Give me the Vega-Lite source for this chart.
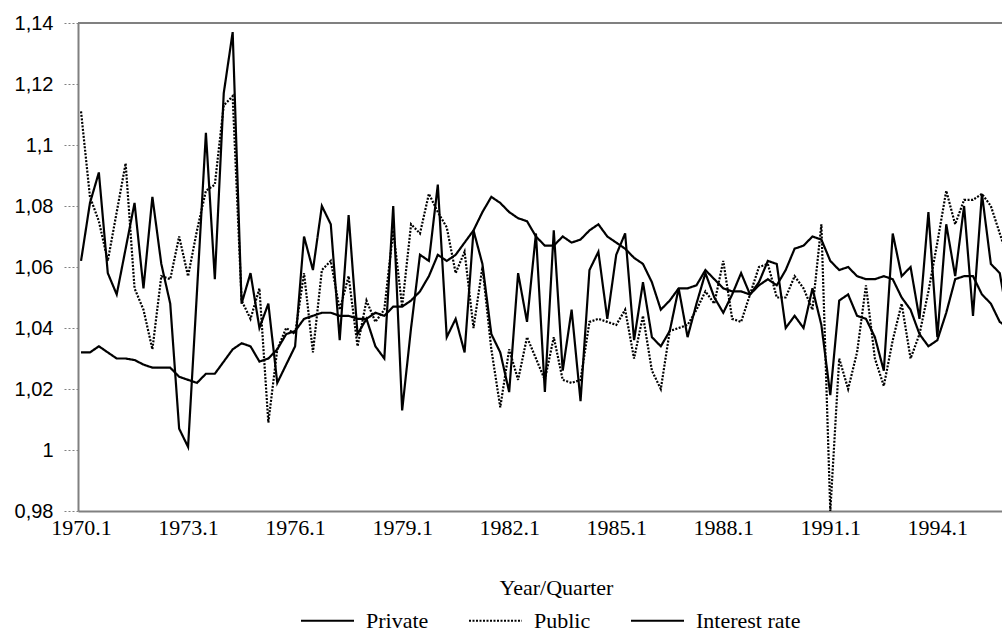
{
  "$schema": "https://vega.github.io/schema/vega-lite/v6.json",
  "width": 924,
  "height": 488,
  "autosize": {"type": "none"},
  "padding": {"left": 78, "top": 23, "right": 0, "bottom": 123},
  "background": "white",
  "config": {"view": {"stroke": null}, "font": "Liberation Serif"},
  "resolve": {"axis": {"y": "independent"}},
  "data": {"values": [
    {"date":1970,"Private":1.062,"Public":1.111,"Interest rate":1.032},
    {"date":1970.25,"Private":1.081,"Public":1.083,"Interest rate":1.032},
    {"date":1970.5,"Private":1.091,"Public":1.075,"Interest rate":1.034},
    {"date":1970.75,"Private":1.058,"Public":1.062,"Interest rate":1.032},
    {"date":1971,"Private":1.051,"Public":1.078,"Interest rate":1.030},
    {"date":1971.25,"Private":1.066,"Public":1.094,"Interest rate":1.030},
    {"date":1971.5,"Private":1.081,"Public":1.053,"Interest rate":1.0295},
    {"date":1971.75,"Private":1.053,"Public":1.046,"Interest rate":1.028},
    {"date":1972,"Private":1.083,"Public":1.033,"Interest rate":1.027},
    {"date":1972.25,"Private":1.061,"Public":1.057,"Interest rate":1.027},
    {"date":1972.5,"Private":1.048,"Public":1.056,"Interest rate":1.027},
    {"date":1972.75,"Private":1.007,"Public":1.070,"Interest rate":1.024},
    {"date":1973,"Private":1.001,"Public":1.057,"Interest rate":1.023},
    {"date":1973.25,"Private":1.052,"Public":1.072,"Interest rate":1.022},
    {"date":1973.5,"Private":1.104,"Public":1.085,"Interest rate":1.025},
    {"date":1973.75,"Private":1.056,"Public":1.087,"Interest rate":1.025},
    {"date":1974,"Private":1.117,"Public":1.113,"Interest rate":1.029},
    {"date":1974.25,"Private":1.137,"Public":1.116,"Interest rate":1.033},
    {"date":1974.5,"Private":1.048,"Public":1.049,"Interest rate":1.035},
    {"date":1974.75,"Private":1.058,"Public":1.043,"Interest rate":1.034},
    {"date":1975,"Private":1.040,"Public":1.053,"Interest rate":1.029},
    {"date":1975.25,"Private":1.048,"Public":1.009,"Interest rate":1.030},
    {"date":1975.5,"Private":1.022,"Public":1.033,"Interest rate":1.033},
    {"date":1975.75,"Private":1.028,"Public":1.040,"Interest rate":1.038},
    {"date":1976,"Private":1.034,"Public":1.038,"Interest rate":1.039},
    {"date":1976.25,"Private":1.070,"Public":1.058,"Interest rate":1.043},
    {"date":1976.5,"Private":1.059,"Public":1.032,"Interest rate":1.044},
    {"date":1976.75,"Private":1.080,"Public":1.059,"Interest rate":1.045},
    {"date":1977,"Private":1.074,"Public":1.062,"Interest rate":1.045},
    {"date":1977.25,"Private":1.036,"Public":1.046,"Interest rate":1.044},
    {"date":1977.5,"Private":1.077,"Public":1.057,"Interest rate":1.044},
    {"date":1977.75,"Private":1.038,"Public":1.034,"Interest rate":1.043},
    {"date":1978,"Private":1.043,"Public":1.049,"Interest rate":1.043},
    {"date":1978.25,"Private":1.034,"Public":1.042,"Interest rate":1.045},
    {"date":1978.5,"Private":1.030,"Public":1.046,"Interest rate":1.044},
    {"date":1978.75,"Private":1.080,"Public":1.072,"Interest rate":1.047},
    {"date":1979,"Private":1.013,"Public":1.047,"Interest rate":1.047},
    {"date":1979.25,"Private":1.040,"Public":1.074,"Interest rate":1.049},
    {"date":1979.5,"Private":1.064,"Public":1.071,"Interest rate":1.052},
    {"date":1979.75,"Private":1.062,"Public":1.084,"Interest rate":1.057},
    {"date":1980,"Private":1.087,"Public":1.078,"Interest rate":1.064},
    {"date":1980.25,"Private":1.037,"Public":1.073,"Interest rate":1.062},
    {"date":1980.5,"Private":1.043,"Public":1.058,"Interest rate":1.064},
    {"date":1980.75,"Private":1.032,"Public":1.065,"Interest rate":1.068},
    {"date":1981,"Private":1.072,"Public":1.040,"Interest rate":1.072},
    {"date":1981.25,"Private":1.061,"Public":1.060,"Interest rate":1.078},
    {"date":1981.5,"Private":1.038,"Public":1.033,"Interest rate":1.083},
    {"date":1981.75,"Private":1.032,"Public":1.014,"Interest rate":1.081},
    {"date":1982,"Private":1.019,"Public":1.033,"Interest rate":1.078},
    {"date":1982.25,"Private":1.058,"Public":1.023,"Interest rate":1.076},
    {"date":1982.5,"Private":1.042,"Public":1.037,"Interest rate":1.075},
    {"date":1982.75,"Private":1.071,"Public":1.030,"Interest rate":1.070},
    {"date":1983,"Private":1.019,"Public":1.023,"Interest rate":1.067},
    {"date":1983.25,"Private":1.072,"Public":1.037,"Interest rate":1.067},
    {"date":1983.5,"Private":1.026,"Public":1.023,"Interest rate":1.070},
    {"date":1983.75,"Private":1.046,"Public":1.022,"Interest rate":1.068},
    {"date":1984,"Private":1.016,"Public":1.023,"Interest rate":1.069},
    {"date":1984.25,"Private":1.059,"Public":1.042,"Interest rate":1.072},
    {"date":1984.5,"Private":1.065,"Public":1.043,"Interest rate":1.074},
    {"date":1984.75,"Private":1.043,"Public":1.042,"Interest rate":1.070},
    {"date":1985,"Private":1.064,"Public":1.041,"Interest rate":1.068},
    {"date":1985.25,"Private":1.071,"Public":1.046,"Interest rate":1.066},
    {"date":1985.5,"Private":1.036,"Public":1.030,"Interest rate":1.063},
    {"date":1985.75,"Private":1.055,"Public":1.044,"Interest rate":1.061},
    {"date":1986,"Private":1.037,"Public":1.026,"Interest rate":1.055},
    {"date":1986.25,"Private":1.034,"Public":1.020,"Interest rate":1.046},
    {"date":1986.5,"Private":1.039,"Public":1.039,"Interest rate":1.049},
    {"date":1986.75,"Private":1.053,"Public":1.040,"Interest rate":1.053},
    {"date":1987,"Private":1.037,"Public":1.041,"Interest rate":1.053},
    {"date":1987.25,"Private":1.048,"Public":1.046,"Interest rate":1.054},
    {"date":1987.5,"Private":1.058,"Public":1.052,"Interest rate":1.059},
    {"date":1987.75,"Private":1.050,"Public":1.048,"Interest rate":1.056},
    {"date":1988,"Private":1.045,"Public":1.062,"Interest rate":1.053},
    {"date":1988.25,"Private":1.051,"Public":1.043,"Interest rate":1.052},
    {"date":1988.5,"Private":1.058,"Public":1.042,"Interest rate":1.052},
    {"date":1988.75,"Private":1.051,"Public":1.051,"Interest rate":1.051},
    {"date":1989,"Private":1.055,"Public":1.060,"Interest rate":1.054},
    {"date":1989.25,"Private":1.062,"Public":1.061,"Interest rate":1.056},
    {"date":1989.5,"Private":1.061,"Public":1.050,"Interest rate":1.054},
    {"date":1989.75,"Private":1.040,"Public":1.050,"Interest rate":1.059},
    {"date":1990,"Private":1.044,"Public":1.057,"Interest rate":1.066},
    {"date":1990.25,"Private":1.040,"Public":1.053,"Interest rate":1.067},
    {"date":1990.5,"Private":1.053,"Public":1.046,"Interest rate":1.070},
    {"date":1990.75,"Private":1.041,"Public":1.074,"Interest rate":1.069},
    {"date":1991,"Private":1.018,"Public":0.980,"Interest rate":1.062},
    {"date":1991.25,"Private":1.049,"Public":1.030,"Interest rate":1.059},
    {"date":1991.5,"Private":1.051,"Public":1.020,"Interest rate":1.060},
    {"date":1991.75,"Private":1.044,"Public":1.032,"Interest rate":1.057},
    {"date":1992,"Private":1.043,"Public":1.054,"Interest rate":1.056},
    {"date":1992.25,"Private":1.037,"Public":1.030,"Interest rate":1.056},
    {"date":1992.5,"Private":1.026,"Public":1.021,"Interest rate":1.057},
    {"date":1992.75,"Private":1.071,"Public":1.036,"Interest rate":1.056},
    {"date":1993,"Private":1.057,"Public":1.048,"Interest rate":1.050},
    {"date":1993.25,"Private":1.060,"Public":1.030,"Interest rate":1.046},
    {"date":1993.5,"Private":1.043,"Public":1.038,"Interest rate":1.038},
    {"date":1993.75,"Private":1.078,"Public":1.052,"Interest rate":1.034},
    {"date":1994,"Private":1.037,"Public":1.068,"Interest rate":1.036},
    {"date":1994.25,"Private":1.074,"Public":1.085,"Interest rate":1.045},
    {"date":1994.5,"Private":1.057,"Public":1.074,"Interest rate":1.056},
    {"date":1994.75,"Private":1.080,"Public":1.082,"Interest rate":1.057},
    {"date":1995,"Private":1.044,"Public":1.082,"Interest rate":1.057},
    {"date":1995.25,"Private":1.084,"Public":1.084,"Interest rate":1.051},
    {"date":1995.5,"Private":1.061,"Public":1.080,"Interest rate":1.048},
    {"date":1995.75,"Private":1.058,"Public":1.071,"Interest rate":1.042},
    {"date":1996,"Private":1.041,"Public":1.062,"Interest rate":1.040}
  ]},
  "layer": [
    {
      "transform": [{"fold": ["Private", "Public", "Interest rate"], "as": ["series", "value"]}],
      "mark": {"type": "line", "clip": true, "strokeWidth": 2.2, "color": "black"},
      "encoding": {
        "x": {
          "field": "date", "type": "quantitative",
          "scale": {"domain": [1969.915, 1995.8125], "nice": false, "zero": false},
          "axis": {
            "values": [1970, 1973, 1976, 1979, 1982, 1985, 1988, 1991, 1994],
            "labelExpr": "format(datum.value, 'd') + '.1'",
            "ticks": false, "grid": false,
            "domainColor": "#808080", "domainWidth": 2,
            "labelFont": "Liberation Serif", "labelFontSize": 22, "labelColor": "black",
            "labelPadding": 6, "labelFlush": false, "labelOverlap": false,
            "title": "Year/Quarter", "titleFont": "Liberation Serif", "titleFontSize": 22,
            "titleFontWeight": "normal", "titleColor": "black",
            "titleX": 478, "titleY": 76, "titleBaseline": "middle", "titleAlign": "center"
          }
        },
        "y": {
          "field": "value", "type": "quantitative",
          "scale": {"domain": [0.98, 1.14], "nice": false, "zero": false},
          "axis": {
            "values": [0.98, 1, 1.02, 1.04, 1.06, 1.08, 1.1, 1.12, 1.14],
            "labelExpr": "replace(format(datum.value, '.2~f'), '.', ',')",
            "title": null, "grid": false,
            "domainColor": "#808080", "domainWidth": 2,
            "tickColor": "#808080", "tickDash": [2, 2], "tickSize": 15, "tickWidth": 1,
            "labelFont": "Liberation Sans", "labelFontSize": 20, "labelColor": "black",
            "labelPadding": 10
          }
        },
        "strokeDash": {
          "field": "series", "type": "nominal",
          "scale": {"domain": ["Private", "Public", "Interest rate"], "range": [[1, 0], [2, 1.5], [1, 0]]},
          "legend": {
            "orient": "none", "legendX": 222, "legendY": 570, "direction": "horizontal",
            "title": null, "symbolType": "stroke", "symbolSize": 2809, "symbolStrokeWidth": 2,
            "symbolStrokeColor": "black",
            "labelFont": "Liberation Serif", "labelFontSize": 22, "labelColor": "black",
            "labelOffset": 11, "columnPadding": 36, "padding": 0
          }
        }
      }
    },
    {
      "data": {"values": [{}]},
      "mark": {"type": "rule", "color": "#808080", "strokeWidth": 2},
      "encoding": {"y": {"datum": 1.14, "type": "quantitative", "axis": null}}
    }
  ]
}
